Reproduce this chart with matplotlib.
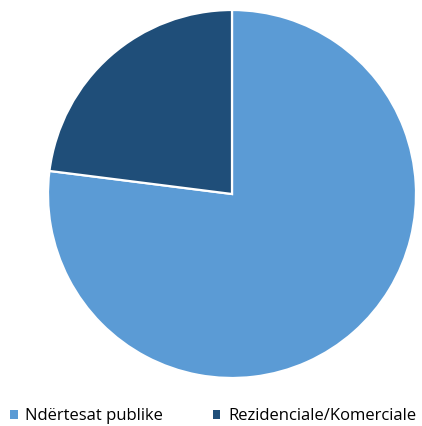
import matplotlib
matplotlib.use('Agg')
import matplotlib.pyplot as plt
from matplotlib.patches import Patch

# Data
categories = ['Ndërtesat publike', 'Rezidenciale/Komerciale']
shares = [77, 23]
colors = ['#5B9BD5', '#1F4E79']

plt.rcParams['font.family'] = ['Open Sans', 'DejaVu Sans']

fig = plt.figure(figsize=(4.22, 4.26), dpi=100)
W, H = 422, 426
cx, cy, r = 232, 194, 184
ax = fig.add_axes([(cx - r) / W, (H - cy - r) / H, 2 * r / W, 2 * r / H])

ax.pie(shares, colors=colors, startangle=90, counterclock=False,
       wedgeprops=dict(edgecolor='white', linewidth=1.6))
ax.set_xlim(-1, 1)
ax.set_ylim(-1, 1)

# legend sits at the very bottom edge, as in the original
handles = [Patch(facecolor=c, edgecolor='none') for c in colors]
fig.legend(handles, categories, loc='center left', bbox_to_anchor=(10 / W, 1 - 416 / H),
           ncol=2, frameon=False, fontsize=12, handlelength=0.45, handleheight=0.45,
           handletextpad=0.45, columnspacing=3.0, borderaxespad=0, borderpad=0)

fig.savefig('out.png', dpi=100)
